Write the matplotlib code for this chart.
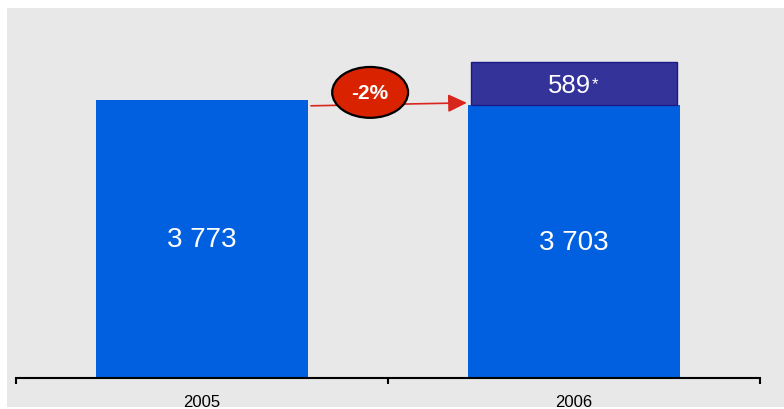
import matplotlib
matplotlib.use("Agg")
import matplotlib.pyplot as plt
from matplotlib.patches import Ellipse, Rectangle

plt.rcParams['font.family'] = ['Liberation Sans', 'DejaVu Sans']

years = ["2005", "2006"]
base_values = [3773, 3703]
extra_values = [0, 589]
base_labels = ["3 773", "3 703"]
extra_label = "589"
change_label = "-2%"

BLUE = "#0060e0"
NAVY = "#343399"
RED = "#d92200"
BG = "#e8e8e8"

fig = plt.figure(figsize=(7.84, 4.10), dpi=100)
fig.patch.set_facecolor("white")
# gray panel background
fig.patches.append(Rectangle((7 / 784, 2 / 410), 1 - 7 / 784, 399 / 410,
                             transform=fig.transFigure, facecolor=BG,
                             edgecolor="none", zorder=-10))

ax = fig.add_axes([16 / 784, 31 / 410, 744 / 784, 370 / 410])
ax.set_facecolor("none")
ax.set_xlim(-0.5, 1.5)
ax.set_ylim(0, 5020)

x = list(range(len(years)))
ax.bar(x, base_values, width=0.57, color=BLUE, zorder=2)
ax.bar([x[1]], [extra_values[1]], bottom=[base_values[1]], width=0.555,
       color=NAVY, edgecolor="#1a1a88", linewidth=1, zorder=2)

for xi, v, lab in zip(x, base_values, base_labels):
    ax.text(xi, v / 2, lab, ha="center", va="center", color="white",
            fontsize=20, zorder=4)

t = ax.annotate(extra_label, xy=(x[1], base_values[1] + extra_values[1] / 2),
                xytext=(-3, -1), textcoords="offset points",
                ha="center", va="center", color="white", fontsize=18.5, zorder=4)
ax.annotate("*", xy=(1, 1), xycoords=t, xytext=(0.5, -2.5),
            textcoords="offset points", ha="left", va="top",
            color="white", fontsize=12, zorder=4)

# arrow between bars
y_start = base_values[0] - 80
y_end = base_values[1] + 30
ax.annotate("", xy=(x[1] - 0.288, y_end), xytext=(x[0] + 0.293, y_start),
            arrowprops=dict(arrowstyle="-|>,head_length=1.15,head_width=0.55",
                            color="#d8261c", lw=1.2, shrinkA=0, shrinkB=0),
            zorder=5)
ell = Ellipse((0.452, 3875), width=0.204, height=690, facecolor=RED,
              edgecolor="black", linewidth=1.6, zorder=6, clip_on=False)
ax.add_patch(ell)
ax.text(0.452, 3875, change_label, ha="center", va="center", color="white",
        fontsize=15, fontweight="bold", zorder=7)

for s in ["top", "left", "right"]:
    ax.spines[s].set_visible(False)
ax.spines["bottom"].set_linewidth(1.5)
ax.spines["bottom"].set_color("black")
ax.set_yticks([])
ax.set_xticks(x)
ax.set_xticklabels(years, fontsize=12)
ax.set_xticks([-0.5, 0.5, 1.5], minor=True)
ax.tick_params(axis="x", which="major", length=0, pad=11.5)
ax.tick_params(axis="x", which="minor", length=4, width=1.5, direction="out")

fig.savefig("out.png", dpi=100, facecolor=fig.get_facecolor())
